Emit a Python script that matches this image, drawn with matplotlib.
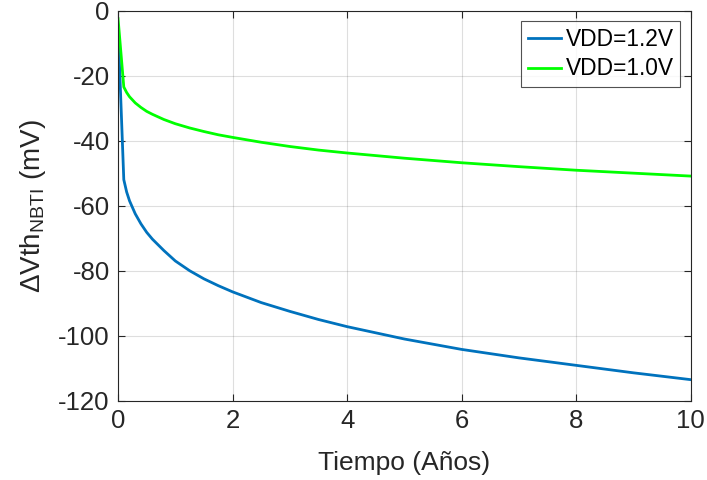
import matplotlib
matplotlib.use("Agg")
import matplotlib.pyplot as plt

plt.rcParams['font.family'] = ['Liberation Sans', 'DejaVu Sans']
plt.rcParams['mathtext.fontset'] = 'custom'
plt.rcParams['mathtext.rm'] = 'Liberation Sans'
plt.rcParams['mathtext.it'] = 'Liberation Sans:italic'
plt.rcParams['axes.unicode_minus'] = False

t = [0, 0.1, 0.15, 0.2, 0.3, 0.4, 0.5, 0.6, 0.8, 1.0, 1.25, 1.5, 1.75,
     2, 2.5, 3, 3.5, 4, 5, 6, 7, 8, 9, 10]
v12 = [-5, -52, -55.8, -58.5, -62.5, -65.6, -68.2, -70.3, -73.8, -77.0, -80.0, -82.5, -84.6,
       -86.5, -89.8, -92.5, -95.0, -97.2, -101.0, -104.2, -106.8, -109.1, -111.4, -113.5]
v10 = [-2.5, -23.5, -25.2, -26.5, -28.4, -29.8, -31.0, -31.9, -33.5, -34.8, -36.1, -37.2, -38.2,
       -39.0, -40.5, -41.8, -42.9, -43.8, -45.4, -46.8, -48.0, -49.1, -50.0, -50.9]
labels = ['VDD=1.2V', 'VDD=1.0V']
colors = ['#0072BD', '#00FF00']

fig = plt.figure(figsize=(7.07, 4.8), dpi=100)
ax = fig.add_axes([0.167, 0.165, 0.810, 0.813])
ax.plot(t, v12, color=colors[0], lw=2.0, label=labels[0])
ax.plot(t, v10, color=colors[1], lw=2.0, label=labels[1])

ax.set_xlim(0, 10)
ax.set_ylim(-120, 0)
ax.set_xticks(range(0, 11, 2))
ax.set_yticks(range(-120, 1, 20))
ax.grid(True, color='#262626', alpha=0.15, lw=0.8)
ax.tick_params(direction='in', top=True, right=True, labelsize=18.5,
               colors='#262626', length=5, width=0.8, pad=6)
for lbl in ax.get_xticklabels() + ax.get_yticklabels():
    lbl.set_color('#262626')
for s in ax.spines.values():
    s.set_color('#262626')
    s.set_linewidth(0.8)

ax.set_xlabel('Tiempo (Años)', fontsize=19, color='#262626', labelpad=13)
ax.set_ylabel(r'$\Delta$Vth$_{\mathrm{NBTI}}$ (mV)', fontsize=20, color='#262626', labelpad=7)

leg = ax.legend(loc='upper right', fontsize=16.4, frameon=True, fancybox=False,
                edgecolor='#262626', handlelength=1.45, handletextpad=0.2,
                borderpad=0.3, labelspacing=0.3, borderaxespad=0.45)
leg.get_frame().set_linewidth(0.8)

fig.savefig('out.png', dpi=100)
